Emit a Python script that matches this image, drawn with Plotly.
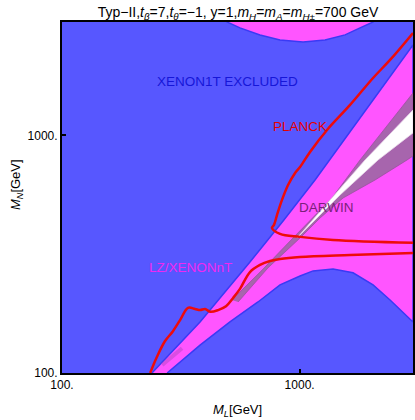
import plotly.graph_objects as go

# --- data (GeV) ---
# upper edge of the LZ/XENONnT band
lz_upper_x = [239, 381, 618, 852, 1161, 1796, 3000]
lz_upper_y = [100, 164, 293, 436, 649, 1184, 2402]
# lower edge of the LZ/XENONnT band
lz_lower_x = [277, 381, 509, 668, 827, 1004, 1139, 1382, 1678, 2037, 2402, 3000]
lz_lower_y = [100, 131, 164, 199, 235, 256, 269, 274, 264, 235, 203, 164]

# magenta blob at the top
lz_top_x = [495, 495, 561, 681, 827, 1034, 1279, 1553, 1796, 2037, 2037]
lz_top_y = [3300, 3000, 2833, 2647, 2521, 2473, 2521, 2647, 2833, 3000, 3300]

# DARWIN reach
darwin_x = [519, 695, 938, 1128, 1369, 1796, 2288, 3000, 3000, 2833, 2077, 1523, 1219, 1004, 736, 551]
darwin_y = [203, 271, 370, 449, 545, 788, 1075, 1509, 819, 788, 649, 545, 449, 370, 277, 199]
darwin_tail_x = [264, 320]
darwin_tail_y = [108, 127]

# allowed strip
allowed_x = [975, 1382, 1885, 3000, 3000, 2138, 1479, 975]
allowed_y = [370, 551, 788, 1279, 1024, 788, 561, 370]

# PLANCK relic density contour (two branches)
planck_lo_x = [235, 251, 271, 293, 314, 339, 363, 381, 400, 420, 454, 490, 525, 561, 618, 681, 751, 827, 1004, 1630, 3000]
planck_lo_y = [100, 117, 136, 150, 167, 188, 186, 184, 186, 181, 184, 191, 207, 226, 266, 285, 296, 302, 308, 314, 320]
planck_hi_x = [3000, 2402, 2037, 1630, 1304, 1106, 1004, 957, 894, 843, 803, 780, 765, 827, 1004, 1382, 3000]
planck_hi_y = [2698, 2077, 1744, 1343, 1054, 852, 736, 695, 618, 535, 462, 420, 408, 385, 374, 363, 353]

BLUE = "#5757ff"
EDGE = "#3a3af5"
MAGENTA = "#ff55ff"
PURPLE = "#a765ad"
RED = "#ee0b0b"
FONT = "Liberation Sans, Arial, sans-serif"

fig = go.Figure()

band_x = lz_upper_x + [3000] + lz_lower_x[::-1]
band_y = lz_upper_y + [164] + lz_lower_y[::-1]
fig.add_trace(go.Scatter(x=band_x, y=band_y, fill="toself", fillcolor=MAGENTA,
                         mode="lines", line=dict(color=EDGE, width=1.5), hoverinfo="skip"))
fig.add_trace(go.Scatter(x=lz_top_x, y=lz_top_y, fill="toself", fillcolor=MAGENTA,
                         mode="lines", line=dict(color=EDGE, width=1.5), hoverinfo="skip"))
fig.add_trace(go.Scatter(x=darwin_x, y=darwin_y, fill="toself", fillcolor=PURPLE,
                         mode="lines", line=dict(color="#9a4fa0", width=0.8), hoverinfo="skip"))
fig.add_trace(go.Scatter(x=darwin_tail_x, y=darwin_tail_y, mode="lines",
                         line=dict(color="rgba(170,70,190,0.45)", width=4), hoverinfo="skip"))
fig.add_trace(go.Scatter(x=allowed_x, y=allowed_y, fill="toself", fillcolor="white",
                         mode="lines", line=dict(color="#e8d8ea", width=0.8), hoverinfo="skip"))
fig.add_trace(go.Scatter(x=planck_lo_x, y=planck_lo_y, mode="lines", line_shape="spline",
                         line=dict(color=RED, width=2.5), hoverinfo="skip"))
fig.add_trace(go.Scatter(x=planck_hi_x, y=planck_hi_y, mode="lines", line_shape="spline",
                         line=dict(color=RED, width=2.5), hoverinfo="skip"))

labels = [
    ("XENON1T EXCLUDED", 2.6945, 3.2248, "#1616d8"),
    ("PLANCK", 3.0017, 3.0354, "#e60000"),
    ("DARWIN", 3.1112, 2.6945, "#7a1f7a"),
    ("LZ/XENONnT", 2.5388, 2.4419, "#f028f0"),
]
for txt, lx, ly, col in labels:
    fig.add_annotation(x=lx, y=ly, text=txt, showarrow=False,
                       font=dict(family=FONT, size=13.5, color=col))

fig.add_annotation(xref="paper", yref="paper", x=0.4986, y=-0.108,
                   xanchor="center", yanchor="middle",
                   text="<i>M</i><sub><i>L</i></sub>[GeV]", showarrow=False,
                   font=dict(family=FONT, size=13, color="black"))
fig.add_annotation(xref="paper", yref="paper", x=-0.131, y=0.5356, textangle=-90,
                   xanchor="center", yanchor="middle",
                   text="<i>M</i><sub><i>N</i></sub>[GeV]", showarrow=False,
                   font=dict(family=FONT, size=13, color="black"))

axis = dict(type="log", range=[2, 3.4771], showgrid=False, zeroline=False,
            showline=True, mirror=True, linecolor="black", linewidth=2,
            ticks="inside", ticklen=4, tickwidth=2, tickcolor="black",
            tickvals=[100, 1000], ticktext=["100.", "1000."],
            tickfont=dict(family=FONT, size=12, color="black"), automargin=False)

fig.update_layout(
    width=415, height=420,
    margin=dict(l=62, r=2, t=22, b=47),
    paper_bgcolor="white", plot_bgcolor=BLUE,
    showlegend=False,
    title=dict(text="Typ\u2212II,<i>t</i><sub><i>\u03b2</i></sub>=7,<i>t</i><sub><i>\u03b8</i></sub>=\u22121, y=1,"
                    "<i>m</i><sub><i>H</i></sub>=<i>m</i><sub><i>A</i></sub>=<i>m</i><sub><i>H</i>\u00b1</sub>=700 GeV",
               x=0.5735, xanchor="center", y=0.972, yanchor="middle",
               font=dict(family=FONT, size=14, color="black")),
    xaxis=axis,
    yaxis=axis,
)

# page body margin would shift the figure by 8px
fig.write_html("out.html", config={"displayModeBar": False},
               post_script="document.body.style.margin='0';document.body.style.overflow='hidden';")
